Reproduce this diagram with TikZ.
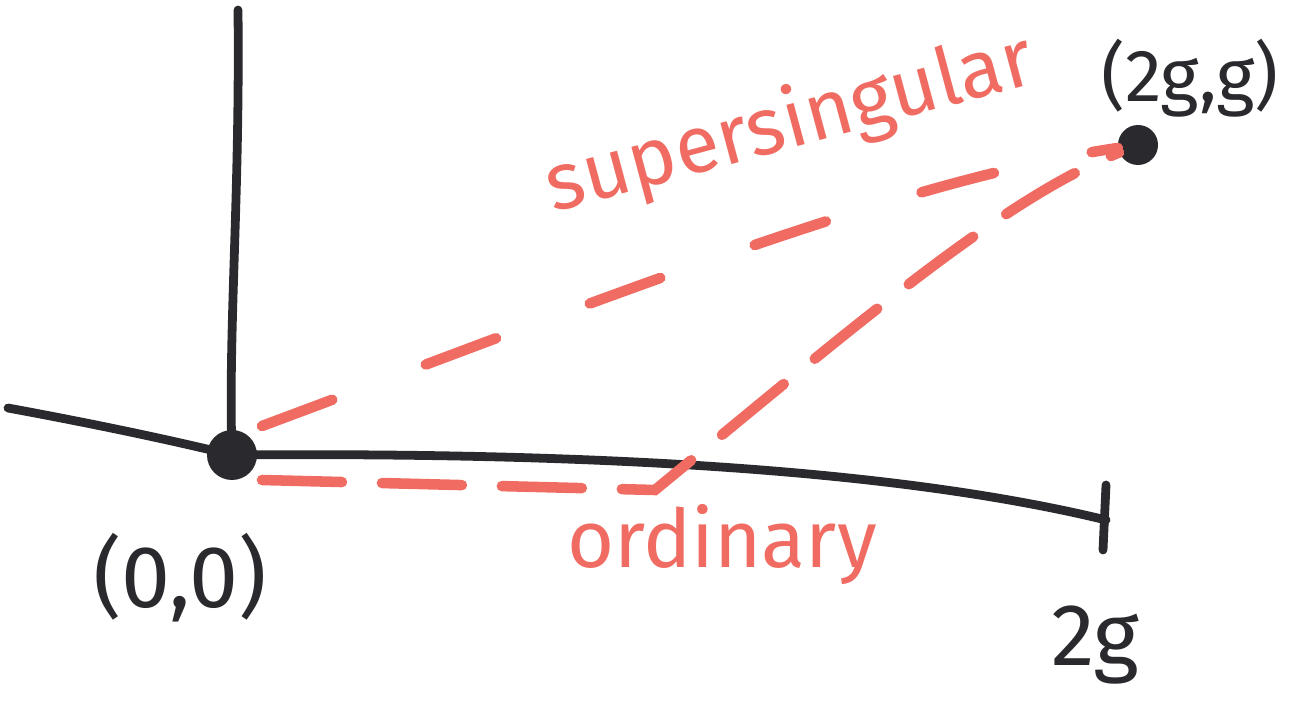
\documentclass[tikz,border=0pt]{standalone}
\usepackage{fontspec}
\setmainfont{Fira Sans}
\usepackage{tikz}
\usetikzlibrary{positioning}
\definecolor{penred}{RGB}{240,108,98}
\definecolor{penblack}{RGB}{42,42,46}

\begin{document}
\begin{tikzpicture}[x=0.02cm, y=-0.02cm,
  axis/.style={draw=penblack, line width=5pt, line cap=round},
  dot/.style={circle, fill=penblack, inner sep=0pt},
  newton/.style={draw=penred, line width=6pt, line cap=round, dash pattern=on 1.5cm off 2cm},
  lbl/.style={text=penblack, font=\fontsize{50}{56}\selectfont, inner sep=0pt},
  redlbl/.style={text=penred, font=\fontsize{46}{52}\selectfont, inner sep=0pt}]
\useasboundingbox (0,0) rectangle (1295,712);
\node[dot, minimum size=1cm] (o) at (232,455) {};
\node[dot, minimum size=0.8cm] (t) at (1138,145) {};
\coordinate (top) at (238,10);
\coordinate (west) at (8,408);
\coordinate (e) at (1106,520);
% axes
\draw[axis] (top) .. controls (240,200) and (228,330) .. (o.center);
\draw[axis] (west) .. controls (100,425) and (170,440) .. (o.center)
  .. controls (600,452) and (900,470) .. (e);
\draw[axis] (e) ++(0,-35) -- ++(-3,65);
% Newton polygons
\draw[newton] (262,426) .. controls (600,300) and (900,180) .. (t);
\draw[newton, dash pattern=on 1.6cm off 0.8cm] (262,480) -- (655,490) .. controls (850,330) and (1000,200) .. (t);
% labels
\node[lbl] (ol) at (180,578) {(0,0)};
\node[lbl] (el) at (1095,645) {2g};
\node[lbl, font=\fontsize{42}{48}\selectfont] (tl) at (1190,78) {(2g,g)};
\node[redlbl, rotate=15] (ss) at (790,125) {supersingular};
\node[redlbl] (ord) at (722,545) {ordinary};
\end{tikzpicture}
\end{document}
